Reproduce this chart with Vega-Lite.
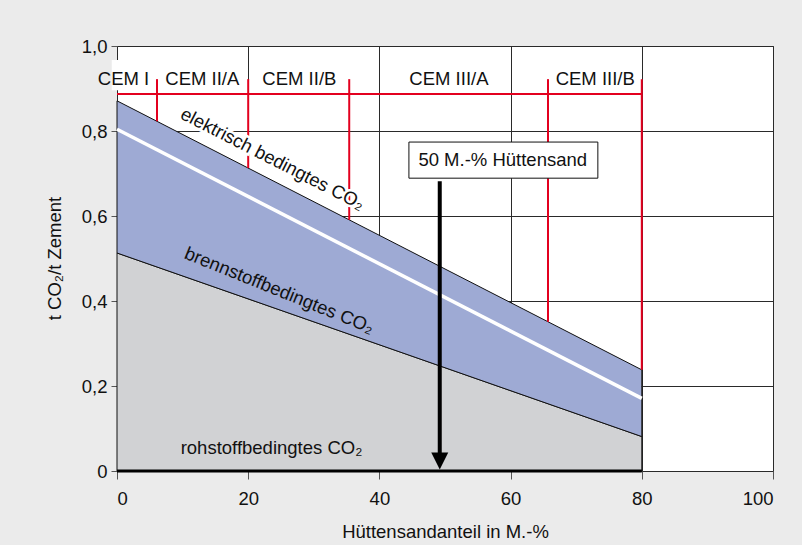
{
  "$schema": "https://vega.github.io/schema/vega-lite/v6.json",
  "width": 656,
  "height": 425,
  "autosize": {"type": "none"},
  "padding": {"left": 117, "top": 46, "right": 29, "bottom": 74},
  "background": "#ebebeb",
  "config": {
    "font": "Liberation Sans",
    "view": {"fill": "white", "stroke": "#3a3a3a", "strokeWidth": 1},
    "axis": {
      "labelFont": "Liberation Sans",
      "titleFont": "Liberation Sans",
      "labelFontSize": 18.5,
      "titleFontSize": 18.5,
      "titleFontWeight": "normal",
      "labelColor": "#111",
      "titleColor": "#111",
      "gridColor": "#2a2a2a",
      "gridWidth": 1,
      "gridOpacity": 1,
      "tickColor": "#555",
      "domain": false
    }
  },
  "datasets": {
    "bands": [
      {"anteil": 0, "gesamt": 0.871, "mitte": 0.804, "brenn": 0.513, "null": 0},
      {"anteil": 80, "gesamt": 0.238, "mitte": 0.171, "brenn": 0.081, "null": 0}
    ],
    "grenzen": [
      {"anteil": 6.1, "oben": 0.922, "unten": 0.823},
      {"anteil": 20, "oben": 0.922, "unten": 0.713},
      {"anteil": 35.4, "oben": 0.922, "unten": 0.591},
      {"anteil": 65.7, "oben": 0.922, "unten": 0.351},
      {"anteil": 80, "oben": 0.922, "unten": 0.238}
    ],
    "cem": [
      {"anteil": 1.0, "wert": 0.908, "name": "CEM I"},
      {"anteil": 13.0, "wert": 0.908, "name": "CEM II/A"},
      {"anteil": 27.8, "wert": 0.908, "name": "CEM II/B"},
      {"anteil": 50.6, "wert": 0.908, "name": "CEM III/A"},
      {"anteil": 72.9, "wert": 0.908, "name": "CEM III/B"}
    ]
  },
  "layer": [
    {
      "data": {"name": "bands"},
      "mark": {"type": "area", "fill": "#d1d2d4", "stroke": "#111", "strokeWidth": 1},
      "encoding": {
        "x": {
          "field": "anteil", "type": "quantitative",
          "scale": {"domain": [0, 100], "nice": false},
          "axis": {
            "values": [0, 20, 40, 60, 80, 100],
            "grid": true,
            "tickSize": 8,
            "labelPadding": 10,
            "title": "Hüttensandanteil in M.-%",
            "titleBaseline": "alphabetic",
            "titleX": 328,
            "titleY": 66,
            "titleAlign": "center"
          }
        },
        "y": {
          "field": "brenn", "type": "quantitative",
          "scale": {"domain": [0, 1], "nice": false},
          "axis": {
            "values": [0, 0.2, 0.4, 0.6, 0.8, 1.0],
            "grid": true,
            "tickSize": 6,
            "labelPadding": 4,
            "labelExpr": "datum.value == 0 ? '0' : replace(format(datum.value, '.1f'), '.', ',')",
            "title": "t CO₂/t Zement",
            "titleAngle": -90,
            "titleBaseline": "alphabetic",
            "titleX": -57,
            "titleY": 212,
            "titleAlign": "center"
          }
        },
        "y2": {"field": "null"}
      }
    },
    {
      "data": {"name": "bands"},
      "mark": {"type": "area", "fill": "#9eaad4", "stroke": "#111", "strokeWidth": 1},
      "encoding": {
        "x": {"field": "anteil", "type": "quantitative"},
        "y": {"field": "gesamt", "type": "quantitative"},
        "y2": {"field": "brenn"}
      }
    },
    {
      "data": {"name": "bands"},
      "mark": {"type": "line", "stroke": "white", "strokeWidth": 3.5},
      "encoding": {
        "x": {"field": "anteil", "type": "quantitative"},
        "y": {"field": "mitte", "type": "quantitative"}
      }
    },
    {
      "data": {"values": [{"von": 0, "bis": 80, "wert": 0}]},
      "mark": {"type": "rule", "stroke": "#000", "strokeWidth": 3},
      "encoding": {
        "x": {"field": "von", "type": "quantitative"},
        "x2": {"field": "bis"},
        "y": {"field": "wert", "type": "quantitative"}
      }
    },
    {
      "data": {"name": "grenzen"},
      "mark": {"type": "rule", "stroke": "#e3001f", "strokeWidth": 2},
      "encoding": {
        "x": {"field": "anteil", "type": "quantitative"},
        "y": {"field": "oben", "type": "quantitative"},
        "y2": {"field": "unten"}
      }
    },
    {
      "data": {"values": [{"von": 0, "bis": 80, "wert": 0.887}]},
      "mark": {"type": "rule", "stroke": "#e3001f", "strokeWidth": 2},
      "encoding": {
        "x": {"field": "von", "type": "quantitative"},
        "x2": {"field": "bis"},
        "y": {"field": "wert", "type": "quantitative"}
      }
    },
    {
      "data": {"values": [{"von": -0.8, "bis": 4.7, "unten": 0.896, "oben": 0.967}]},
      "mark": {"type": "rect", "fill": "white", "clip": false},
      "encoding": {
        "x": {"field": "von", "type": "quantitative"},
        "x2": {"field": "bis"},
        "y": {"field": "unten", "type": "quantitative"},
        "y2": {"field": "oben"}
      }
    },
    {
      "data": {"name": "cem"},
      "mark": {"type": "text", "fontSize": 18.5, "align": "center", "baseline": "alphabetic", "color": "#111"},
      "encoding": {
        "x": {"field": "anteil", "type": "quantitative"},
        "y": {"field": "wert", "type": "quantitative"},
        "text": {"field": "name"}
      }
    },
    {
      "data": {"values": [{"von": 44.5, "bis": 73.3, "unten": 0.689, "oben": 0.774}]},
      "mark": {"type": "rect", "fill": "white", "stroke": "#111", "strokeWidth": 1},
      "encoding": {
        "x": {"field": "von", "type": "quantitative"},
        "x2": {"field": "bis"},
        "y": {"field": "unten", "type": "quantitative"},
        "y2": {"field": "oben"}
      }
    },
    {
      "data": {"values": [{"anteil": 58.8, "wert": 0.7176, "text": "50 M.-% Hüttensand"}]},
      "mark": {"type": "text", "fontSize": 18.5, "align": "center", "baseline": "alphabetic", "color": "#111"},
      "encoding": {
        "x": {"field": "anteil", "type": "quantitative"},
        "y": {"field": "wert", "type": "quantitative"},
        "text": {"field": "text"}
      }
    },
    {
      "data": {"values": [{"anteil": 49.2, "von": 0.682, "bis": 0.04}]},
      "mark": {"type": "rule", "stroke": "#000", "strokeWidth": 4},
      "encoding": {
        "x": {"field": "anteil", "type": "quantitative"},
        "y": {"field": "von", "type": "quantitative"},
        "y2": {"field": "bis"}
      }
    },
    {
      "data": {"values": [{"anteil": 49.2, "wert": 0.0235}]},
      "mark": {"type": "point", "shape": "M-1,-1L1,-1L0,1Z", "size": 289, "filled": true, "fill": "#000", "stroke": null, "opacity": 1},
      "encoding": {
        "x": {"field": "anteil", "type": "quantitative"},
        "y": {"field": "wert", "type": "quantitative"}
      }
    },
    {
      "data": {"values": [{"anteil": 23.3, "wert": 0.722, "text": "elektrisch bedingtes CO₂"}]},
      "mark": {"type": "text", "fontSize": 18.5, "align": "center", "baseline": "alphabetic", "angle": 27, "stroke": "white", "strokeWidth": 5, "fill": "white"},
      "encoding": {
        "x": {"field": "anteil", "type": "quantitative"},
        "y": {"field": "wert", "type": "quantitative"},
        "text": {"field": "text"}
      }
    },
    {
      "data": {"values": [
        {"anteil": 23.3, "wert": 0.722, "winkel": 27, "text": "elektrisch bedingtes CO₂"},
        {"anteil": 24.4, "wert": 0.412, "winkel": 22, "text": "brennstoffbedingtes CO₂"},
        {"anteil": 23.55, "wert": 0.040, "winkel": 0, "text": "rohstoffbedingtes CO₂"}
      ]},
      "mark": {"type": "text", "fontSize": 18.5, "align": "center", "baseline": "alphabetic", "color": "#111"},
      "encoding": {
        "x": {"field": "anteil", "type": "quantitative"},
        "y": {"field": "wert", "type": "quantitative"},
        "angle": {"field": "winkel", "type": "quantitative", "scale": null},
        "text": {"field": "text"}
      }
    }
  ]
}
